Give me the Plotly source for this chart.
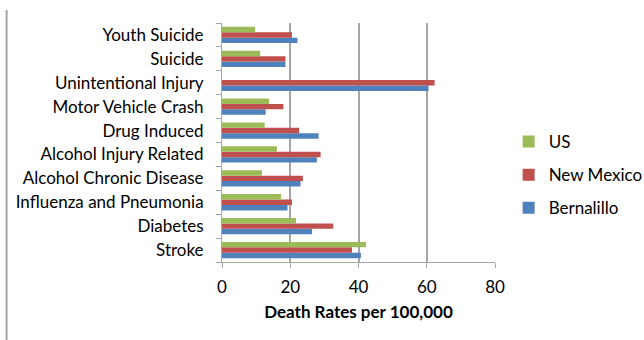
import plotly.graph_objects as go

# Causes of death, listed bottom to top on the category axis
causes = [
    "Stroke", "Diabetes", "Influenza and Pneumonia", "Alcohol Chronic Disease",
    "Alcohol Injury Related", "Drug Induced", "Motor Vehicle Crash",
    "Unintentional Injury", "Suicide", "Youth Suicide",
]

# Age-adjusted death rates per 100,000
bernalillo = [40.7, 26.4, 19.2, 23.0, 27.8, 28.3, 12.8, 60.5, 18.6, 22.1]
new_mexico = [38.1, 32.6, 20.5, 23.7, 28.9, 22.6, 18.0, 62.3, 18.6, 20.5]
us = [42.2, 21.7, 17.3, 11.7, 16.1, 12.5, 13.8, 0, 11.2, 9.7]

x_ticks = [0, 20, 40, 60, 80]

# (name, values, colour, position in legend from the top)
series = [
    ("Bernalillo", bernalillo, "#4F81BD", 3),
    ("New Mexico", new_mexico, "#C0504D", 2),
    ("US", us, "#9BBB59", 1),
]

fig = go.Figure()
for name, vals, color, rank in series:
    fig.add_trace(go.Bar(
        y=causes, x=vals, name=name, orientation="h",
        marker=dict(color=color, line=dict(width=0)),
        legendgroup=name, legendrank=rank,
    ))

FONT = "Lato, 'Open Sans', sans-serif"

fig.update_layout(
    width=644, height=340,
    margin=dict(l=222, r=149, t=23, b=78, autoexpand=False),
    paper_bgcolor="white", plot_bgcolor="white",
    barmode="group", bargap=0.32, bargroupgap=0,
    font=dict(family=FONT, size=17, color="#000000"),
    showlegend=True,
    legend=dict(
        traceorder="grouped", x=1.05, xanchor="left", y=0.364, yanchor="middle",
        tracegroupgap=8, font=dict(size=17), itemwidth=30,
        bgcolor="rgba(0,0,0,0)",
    ),
    xaxis=dict(
        range=[0, 80], tickvals=x_ticks, ticktext=[str(v) for v in x_ticks],
        showgrid=True, gridcolor="#a6a6a6", gridwidth=1.5,
        zeroline=False, showline=True, linecolor="#a6a6a6", linewidth=1,
        ticks="outside", ticklen=5, tickcolor="#a6a6a6",
        tickfont=dict(size=17), ticklabelstandoff=5,
        title=dict(text="<b>Death Rates per 100,000</b>", font=dict(size=17), standoff=9),
        fixedrange=True,
    ),
    yaxis=dict(
        type="category", categoryorder="array", categoryarray=causes,
        showgrid=False, showline=True, linecolor="#a6a6a6", linewidth=1,
        ticks="outside", ticklen=5, tickcolor="#a6a6a6", tickson="boundaries",
        tickfont=dict(size=17), ticklabelstandoff=14,
        fixedrange=True,
    ),
    shapes=[dict(
        type="line", xref="paper", yref="paper",
        x0=-0.789, x1=-0.789, y0=-0.33, y1=1.054,
        line=dict(color="#a6a6a6", width=2),
    )],
)

fig.write_html("out.html")
